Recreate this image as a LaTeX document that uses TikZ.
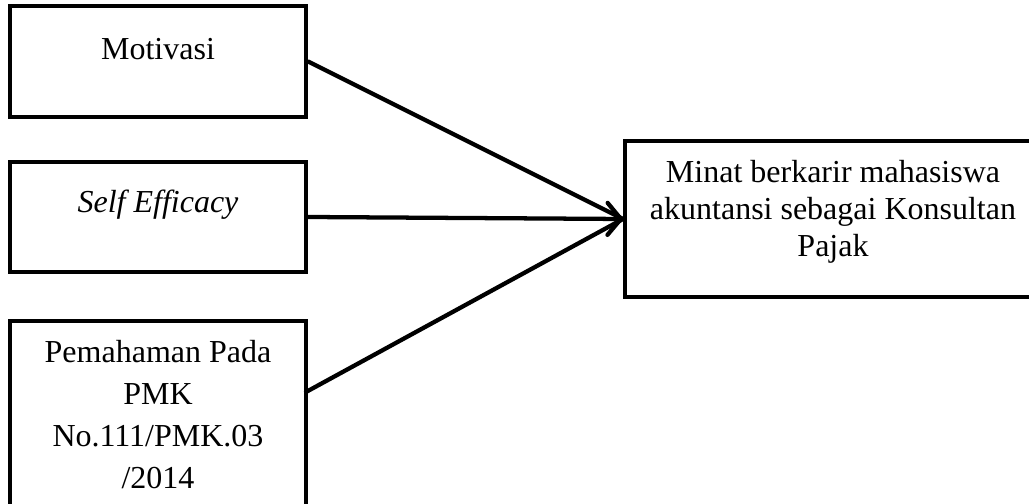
\documentclass[tikz,border=0pt]{standalone}
\usepackage{fontspec}
\setmainfont{Liberation Serif}
\usetikzlibrary{arrows.meta, positioning, fit}

\begin{document}
\begin{tikzpicture}[x=0.375pt, y=-0.375pt,
  every node/.style={font=\fontsize{12}{15.75}\selectfont},
  box/.style={draw, line width=1.5pt, inner sep=0pt},
  link/.style={line width=1.6pt, line cap=round},
  head/.style={link, -{Straight Barb[length=5pt, width=12pt, round]}}
]
  \useasboundingbox (0,0) rectangle (1029,504);
  \clip (0,0) rectangle (1029,504);

  % boxes on the left
  \node[box, fit={(10,6) (306,117)}] (mot) {};
  \node[box, fit={(10,162) (306,272)}] (self) {};
  \node[box, fit={(10,321) (306,580)}] (pem) {};
  % box on the right
  \node[box, fit={(625,141) (1075,297)}] (goal) {};

  % texts (anchor base = last line)
  \node[anchor=base] (mottxt) at (158,60) {Motivasi};
  \node[anchor=base] (selftxt) at (158,213) {\textit{Self Efficacy}};
  \node[anchor=base, align=center] (pemtxt) at (158,489)
    {Pemahaman Pada\\PMK\\No.111/PMK.03\\/2014};
  \node[anchor=base, align=center, font=\fontsize{12}{13.9}\selectfont]
    (goaltxt) at (833,257)
    {Minat berkarir mahasiswa\\akuntansi sebagai Konsultan\\Pajak};

  \coordinate (pemout) at (306,392);
  \draw[link] (mot.east) -- (goal.west);
  \draw[link] (pemout) -- (goal.west);
  \draw[head] (self.east) -- (goal.west);
\end{tikzpicture}
\end{document}
